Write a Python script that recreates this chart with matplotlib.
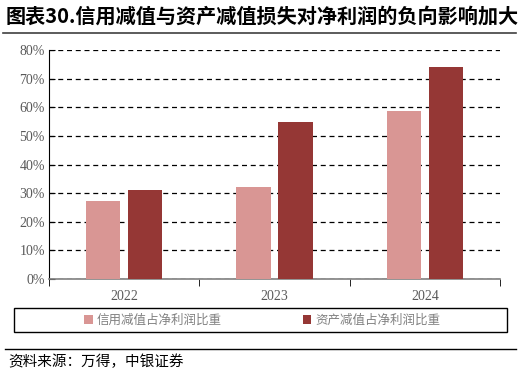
import numpy as np
import matplotlib.pyplot as plt
import matplotlib as mpl
from matplotlib.lines import Line2D
from matplotlib.patches import Rectangle

mpl.rcParams['font.family'] = ['Liberation Serif', 'Noto Sans CJK SC', 'DejaVu Sans']

# 数据
years = ['2022', '2023', '2024']
credit_ratio = [27.3, 32.2, 58.7]   # 信用减值占净利润比重 (%)
asset_ratio = [31.0, 55.0, 74.0]    # 资产减值占净利润比重 (%)
yticks = [0, 10, 20, 30, 40, 50, 60, 70, 80]

c_light = '#D99694'
c_dark = '#953735'

fig = plt.figure(figsize=(5.22, 3.76), dpi=100)
W, H = 522, 376
ax = fig.add_axes([49 / W, 1 - 279 / H, (500 - 49) / W, (279 - 50) / H])

x = np.arange(len(years))
bw = 0.227
ax.bar(x - 0.14, credit_ratio, bw, color=c_light, zorder=3, label='信用减值占净利润比重')
ax.bar(x + 0.14, asset_ratio, bw, color=c_dark, zorder=3, label='资产减值占净利润比重')

ax.set_xlim(-0.5, 2.5)
ax.set_ylim(0, 80)
ax.set_yticks(yticks)
ax.set_yticklabels([f'{v}%' for v in yticks], color='#595959', fontsize=10)
ax.yaxis.grid(True, ls=(0, (4, 3)), color='black', lw=0.9, zorder=0)
ax.set_axisbelow(True)

ax.set_xticks(x)
ax.set_xticklabels(years, color='#595959', fontsize=10)
ax.tick_params(axis='x', length=0, pad=8)
ax.set_xticks([-0.5, 0.5, 1.5, 2.5], minor=True)
ax.tick_params(axis='x', which='minor', length=5, direction='out', color='black')
ax.tick_params(axis='y', length=4, direction='in', color='black', pad=3)

for s in ['top', 'right']:
    ax.spines[s].set_visible(False)
ax.spines['left'].set_color('black')
ax.spines['bottom'].set_color('#808080')
ax.spines['bottom'].set_linewidth(1.2)

# 标题
fig.text(6 / W, 1 - 16 / H, '图表30.信用减值与资产减值损失对净利润的负向影响加大',
         fontsize=14.5, fontweight='bold', va='center', ha='left',
         family=['Noto Sans CJK SC', 'DejaVu Sans'])
fig.add_artist(Line2D([3 / W, 516 / W], [1 - 33 / H, 1 - 33 / H], color='#404040', lw=1.2))

# 图例
fig.add_artist(Rectangle((14 / W, 1 - 332 / H), (507 - 14) / W, 24 / H, transform=fig.transFigure,
                         fill=False, edgecolor='black', lw=1.0))
handles, labels = ax.get_legend_handles_labels()
leg = fig.legend(handles, labels, loc='center', bbox_to_anchor=(262 / W, 1 - 320 / H),
                 ncol=2, frameon=False, handlelength=0.7, handleheight=0.7,
                 handletextpad=0.3, columnspacing=6.5,
                 prop={'family': ['Noto Sans CJK SC', 'DejaVu Sans'], 'size': 9})
for t in leg.get_texts():
    t.set_color('#808080')

# 来源
fig.add_artist(Line2D([5 / W, 516 / W], [1 - 349 / H, 1 - 349 / H], color='black', lw=1.0))
fig.text(8 / W, 1 - 362 / H, '资料来源：万得，中银证券', fontsize=10.5, style='italic',
         va='center', ha='left', family=['Noto Sans CJK SC', 'DejaVu Sans'])

fig.savefig('out.png', dpi=100)
